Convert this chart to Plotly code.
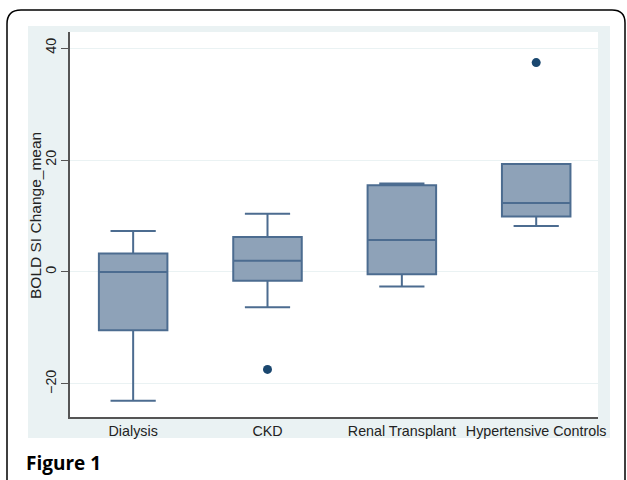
import plotly.graph_objects as go

categories = ["Dialysis", "CKD", "Renal Transplant", "Hypertensive Controls"]
lower_whisker = [-23.0, -6.3, -2.6, 8.2]
q1_values = [-10.4, -1.55, -0.4, 9.9]
median_values = [0.0, 2.0, 5.7, 12.3]
q3_values = [3.3, 6.25, 15.5, 19.3]
upper_whisker = [7.3, 10.4, 15.8, 19.3]
outlier_cats = ["CKD", "Hypertensive Controls"]
outlier_values = [-17.4, 37.4]
y_ticks = [-20, 0, 20, 40]

W, H = 627, 480
L, R, T, B = 70, 598, 32, 417

def px(x):
    return (x - L) / (R - L)

def py(y):
    return (B - y) / (B - T)

BOX_FILL = "#8EA2B8"
BOX_LINE = "#4C6C90"
DOT = "#1A476F"
BG = "#EAF2F3"

fig = go.Figure()
fig.add_trace(go.Box(
    x=categories,
    q1=q1_values, median=median_values, q3=q3_values,
    lowerfence=lower_whisker, upperfence=upper_whisker,
    fillcolor=BOX_FILL,
    line=dict(color=BOX_LINE, width=2),
    width=0.51,
    whiskerwidth=0.66,
    boxpoints=False,
    showlegend=False,
    hoverinfo="skip",
))
fig.add_trace(go.Scatter(
    x=outlier_cats, y=outlier_values, mode="markers",
    marker=dict(color=DOT, size=9),
    showlegend=False, hoverinfo="skip",
))

shapes = [
    dict(type="rect", xref="paper", yref="paper", layer="below",
         x0=px(28), x1=px(610), y0=py(438), y1=py(26),
         fillcolor=BG, line=dict(width=0)),
    dict(type="rect", xref="paper", yref="paper", layer="below",
         x0=0, x1=1, y0=0, y1=1,
         fillcolor="white", line=dict(width=0)),
    dict(type="path", xref="paper", yref="paper",
         path=(f"M {px(7)},{py(482)} L {px(7)},{py(24)} "
               f"Q {px(7)},{py(10)} {px(21)},{py(10)} "
               f"L {px(612)},{py(10)} Q {px(625)},{py(10)} {px(625)},{py(23)} "
               f"L {px(625)},{py(482)}"),
         line=dict(color="black", width=1.5)),
]

fig.update_layout(
    width=W, height=H,
    margin=dict(l=L, r=W - R, t=T, b=H - B),
    paper_bgcolor="white",
    plot_bgcolor="rgba(0,0,0,0)",
    font=dict(family="Liberation Sans, Arial, sans-serif", size=14, color="#222"),
    shapes=shapes,
    annotations=[
        dict(text="<b>Figure 1</b>", xref="paper", yref="paper",
             x=px(24), y=py(478), xanchor="left", yanchor="bottom",
             showarrow=False,
             font=dict(family="Open Sans", size=19, color="black")),
        dict(text="BOLD SI Change_mean", xref="paper", yref="paper",
             x=px(35), y=py(216), xanchor="center", yanchor="middle",
             textangle=-90, showarrow=False,
             font=dict(size=15.5, color="#222")),
    ],
    xaxis=dict(
        type="category", categoryorder="array", categoryarray=categories,
        range=[-0.47, 3.46],
        showline=True, linecolor="#555", linewidth=1.5,
        showgrid=False, ticks="", zeroline=False,
        tickfont=dict(size=14.3, color="#222"),
    ),
    yaxis=dict(
        range=[-25.9, 42.86],
        tickvals=y_ticks, tickangle=-90,
        showline=True, linecolor="#555", linewidth=1.5,
        ticks="outside", ticklen=7, tickcolor="#555", tickwidth=1.2,
        showgrid=True, gridcolor=BG, gridwidth=1,
        zeroline=False,
        tickfont=dict(size=14.3, color="#222"),
    ),
)

fig.write_html("out.html", config={"displayModeBar": False},
               post_script="document.body.style.margin='0px';")
